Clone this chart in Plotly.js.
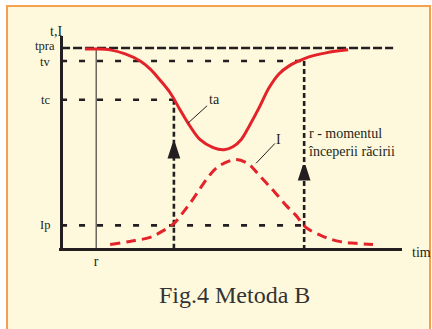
<!DOCTYPE html>
<html>
<head>
<meta charset="utf-8">
<script src="https://cdn.plot.ly/plotly-3.0.1.min.js"></script>
<style>
  html, body { margin: 0; padding: 0; background: #ffffff; }
  #chart { width: 432px; height: 329px; }
</style>
</head>
<body>
<div id="chart"></div>
<script>
// niveluri pe axa t,I
let levelNames = ['tpra', 'tv', 'tc', 'Ip'];
let levelValues = [94.4, 88.3, 70.1, 11.2];
let levelShift = [2, -1, 0, 0];

// momente pe axa timpului
let rTime = 10.3;
let tcTime = 33.1;
let tvTime = 71.3;
let tpraEnd = 97.4;
let tcArrowTip = 50.3;
let tvArrowTip = 40.0;

// temperatura ta
let taTime = [7.0, 10.3, 14.4, 18.8, 23.2, 26.1, 29.0, 32.0, 34.9, 37.2, 40.8, 44.6, 47.8,
              50.4, 52.8, 55.1, 58.1, 61.0, 63.9, 66.9, 69.8, 72.7, 77.7, 84.2];
let taValues = [93.9, 93.9, 93.5, 91.6, 88.3, 84.6, 79.4, 73.4, 65.4, 59.3, 51.4, 47.7, 46.7,
                48.1, 51.4, 57.5, 66.4, 75.7, 82.2, 86.0, 88.3, 90.2, 92.1, 93.5];

// curentul I
let iTime = [14.4, 20.2, 26.1, 29.6, 33.1, 35.8, 37.8, 40.8, 43.7, 46.6, 51.3, 54.8, 57.2,
             60.1, 63.0, 66.0, 68.9, 71.8, 76.8, 81.5, 86.5, 91.5];
let iValues = [2.3, 3.7, 5.6, 8.4, 12.1, 17.3, 21.5, 28.5, 35.0, 39.3, 42.1, 40.2, 36.4,
               31.3, 26.2, 20.6, 15.9, 10.3, 6.1, 3.7, 2.8, 2.3];

let dark = '#231F20';
let red = '#E3222A';
let serif = '"Liberation Serif", "Times New Roman", serif';

function guide(xs, ys, dash, width) {
    return {
        x: xs, y: ys, mode: 'lines', hoverinfo: 'skip',
        line: {color: dark, width: width, dash: dash}
    };
}

let traces = [
    guide([0, tpraEnd], [levelValues[0], levelValues[0]], '9px,3px', 2.6),
    guide([0, tvTime], [levelValues[1], levelValues[1]], '6px,12px', 2.6),
    guide([0, tcTime], [levelValues[2], levelValues[2]], '6px,12px', 2.6),
    guide([0, tvTime], [levelValues[3], levelValues[3]], '6px,12px', 2.6),
    guide([tcTime, tcTime], [levelValues[2], 0], '5px,3px', 2.6),
    guide([tvTime, tvTime], [levelValues[1], 0], '5px,3px', 2.6),
    guide([rTime, rTime], [levelValues[0], 0], 'solid', 1),
    {
        x: taTime, y: taValues, mode: 'lines', hoverinfo: 'skip',
        line: {color: red, width: 3, shape: 'spline'}
    },
    {
        x: iTime, y: iValues, mode: 'lines', hoverinfo: 'skip',
        line: {color: red, width: 3, shape: 'spline', dash: '10px,6px'}
    },
    {
        // varfuri de sageti
        x: [0, 103.2, tcTime, tvTime],
        y: [104.0, 0, tcArrowTip - 0.8, tvArrowTip - 0.8],
        mode: 'markers', hoverinfo: 'skip', cliponaxis: false,
        marker: {symbol: 'arrow', size: 14, color: dark, angle: [0, 90, 0, 0],
                 line: {color: dark, width: 3}}
    }
];

let annotations = [];
for (let i = 0; i < levelNames.length; i++) {
    annotations.push({
        xref: 'paper', yref: 'y', x: -0.04, y: levelValues[i], yshift: levelShift[i],
        text: levelNames[i], showarrow: false, xanchor: 'center', yanchor: 'middle',
        font: {family: serif, size: 12.5, color: dark}
    });
}
annotations.push(
    {xref: 'paper', yref: 'paper', x: -0.032, y: 1.065, text: 't,I', showarrow: false,
     font: {family: serif, size: 14, color: dark}},
    {xref: 'paper', yref: 'paper', x: 1.023, y: -0.051, text: 'tim', showarrow: false,
     xanchor: 'left', font: {family: serif, size: 14, color: dark}},
    {x: 37.2, y: 59.1, ax: 44.9, ay: 70.3, axref: 'x', ayref: 'y', text: 'ta',
     showarrow: true, arrowhead: 0, arrowwidth: 1, arrowcolor: dark,
     font: {family: serif, size: 14, color: dark}},
    {x: 57.2, y: 40.3, ax: 63.9, ay: 51.6, axref: 'x', ayref: 'y', text: 'I',
     showarrow: true, arrowhead: 0, arrowwidth: 1, arrowcolor: dark,
     font: {family: serif, size: 14, color: dark}},
    {x: 71.8, y: 49.9, text: 'r - momentul<br>începerii răcirii', showarrow: false,
     xanchor: 'left', align: 'left', font: {family: serif, size: 14, color: dark}},
    {xref: 'paper', yref: 'paper', x: 0.513, y: -0.274, text: 'Fig.4 Metoda B',
     showarrow: false, font: {family: serif, size: 24, color: '#333333'}}
);

let layout = {
    width: 432,
    height: 329,
    margin: {l: 59, r: 30, t: 36, b: 78, pad: 0},
    paper_bgcolor: '#ffffff',
    plot_bgcolor: 'rgba(0,0,0,0)',
    showlegend: false,
    xaxis: {
        range: [-0.6, 100], showgrid: false, showline: false,
        zeroline: true, zerolinecolor: dark, zerolinewidth: 3,
        tickvals: [rTime], ticktext: ['r'], ticks: '',
        tickfont: {family: serif, size: 14, color: dark}
    },
    yaxis: {
        range: [-0.8, 100], showgrid: false, showline: false,
        zeroline: true, zerolinecolor: dark, zerolinewidth: 3,
        showticklabels: false, ticks: ''
    },
    shapes: [{
        type: 'rect', xref: 'paper', yref: 'paper', layer: 'below',
        x0: (7 - 59) / 343, x1: (430 - 59) / 343,
        y0: -0.45, y1: (251 - 6) / 215,
        fillcolor: '#FEF9DC', line: {color: '#F4A04C', width: 2}
    }],
    annotations: annotations
};

Plotly.newPlot('chart', traces, layout, {staticPlot: true});
</script>
</body>
</html>
